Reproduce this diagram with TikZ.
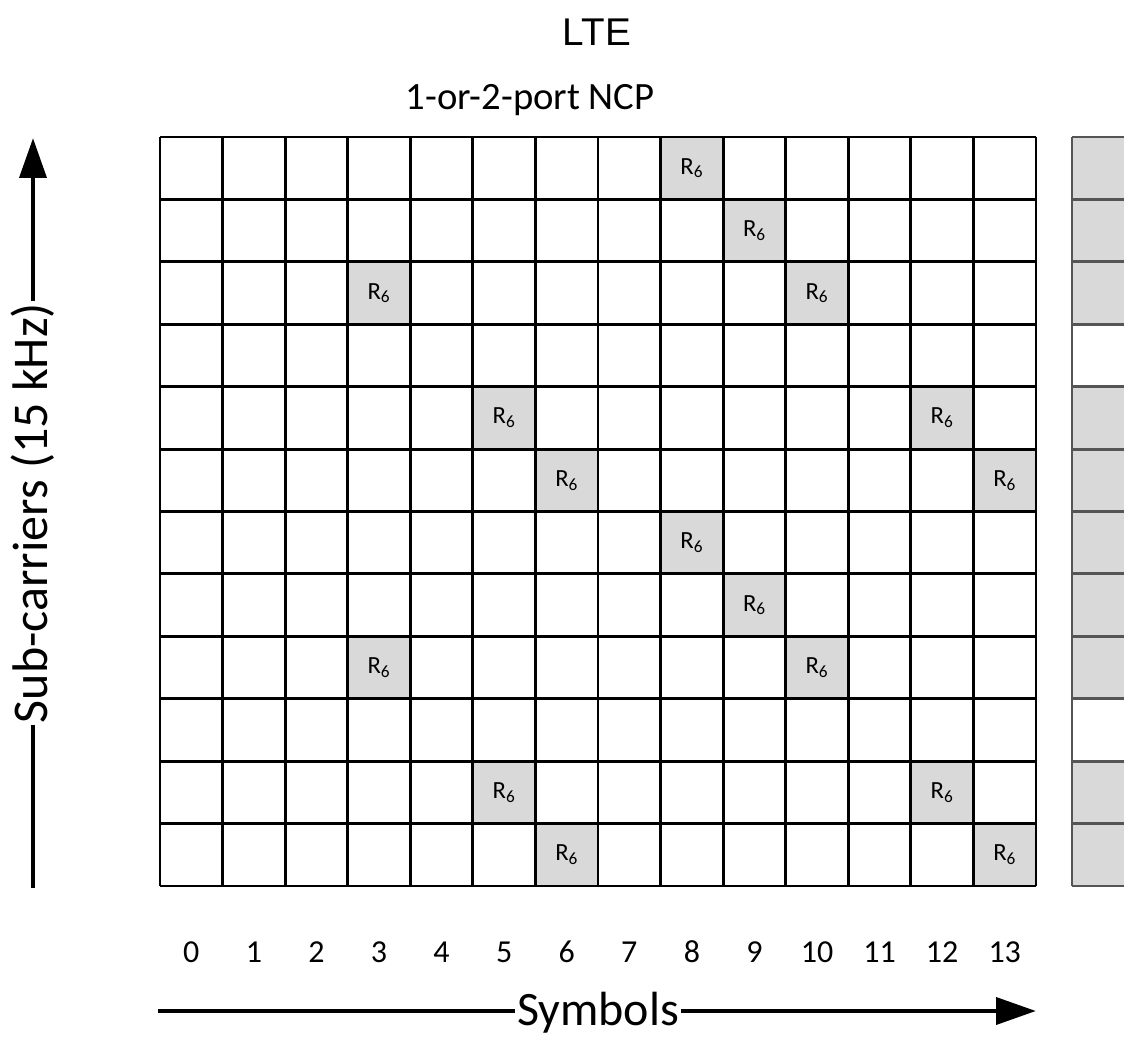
\documentclass[tikz,border=0pt]{standalone}
\usepackage{fontspec}
\setmainfont{Carlito}
\newfontfamily\arialfont{Liberation Sans}
\usetikzlibrary{arrows.meta}
\definecolor{cellgray}{HTML}{D9D9D9}
\definecolor{stripline}{HTML}{555555}
\begin{document}
\begin{tikzpicture}[x=0.75pt,y=-0.75pt,
  gridline/.style={line width=2.2pt,black},
  stripedge/.style={line width=2.2pt,stripline},
  axisline/.style={line width=3.6pt,black},
  rlabel/.style={font=\fontsize{18.5}{20}\selectfont,inner sep=0pt},
  numlabel/.style={font=\fontsize{24}{28}\selectfont,inner sep=0pt,anchor=base},
  axislabel/.style={font=\fontsize{36}{40}\selectfont,inner sep=1pt,anchor=base},
  tip/.style={-{Triangle[length=30pt,width=20pt]}}]
\useasboundingbox (0,0) rectangle (1124,1037);
\def\cw{62.571}
\def\rh{62.417}
% titles
\node[font=\arialfont\fontsize{29}{32}\selectfont,anchor=base] (lte) at (597,46) {LTE};
\node[font=\fontsize{29}{32}\selectfont,anchor=base] (ncp) at (530,110) {1-or-2-port NCP};
% right strip
\foreach \r in {0,1,2,4,5,6,7,8,10,11}
  \fill[cellgray] (1072,{137+\r*\rh}) rectangle (1124,{137+(\r+1)*\rh});
\foreach \r in {0,...,12}
  \draw[stripedge] (1072,{137+\r*\rh}) -- (1124,{137+\r*\rh});
\draw[stripedge] (1072,137) -- (1072,886);
% gray cells with labels
\foreach \c/\r in {8/0,9/1,3/2,10/2,5/4,12/4,6/5,13/5,8/6,9/7,3/8,10/8,5/10,12/10,6/11,13/11}{
  \fill[cellgray] ({160+\c*\cw},{137+\r*\rh}) rectangle ++(\cw,\rh);
  \node[rlabel] (r\c-\r) at ({160+(\c+0.5)*\cw},{137+(\r+0.5)*\rh}) {R\textsubscript{6}};
}
% grid lines
\foreach \c in {0,...,14}
  \draw[gridline] ({160+\c*\cw},137) -- ({160+\c*\cw},886);
\foreach \r in {0,...,12}
  \draw[gridline] (160,{137+\r*\rh}) -- (1036,{137+\r*\rh});
% symbol numbers
\foreach \c in {0,...,13}
  \node[numlabel] (n\c) at ({160+(\c+0.5)*\cw},962) {\c};
% horizontal axis
\node[axislabel] (sym) at (598,1025) {Symbols};
\coordinate (hs) at (158,1011);
\coordinate (he) at (1036,1011);
\draw[axisline] (hs) -- (hs -| sym.west);
\draw[axisline,tip] (he -| sym.east) -- (he);
% vertical axis
\node[axislabel,font=\fontsize{37.5}{40}\selectfont,rotate=90] (sub) at (47,513) {Sub-carriers (15 kHz)};
\coordinate (vs) at (33,888);
\coordinate (ve) at (33,138);
\draw[axisline] (vs) -- (vs |- sub.west);
\draw[axisline,tip] (ve |- sub.east) -- (ve);
\end{tikzpicture}
\end{document}
